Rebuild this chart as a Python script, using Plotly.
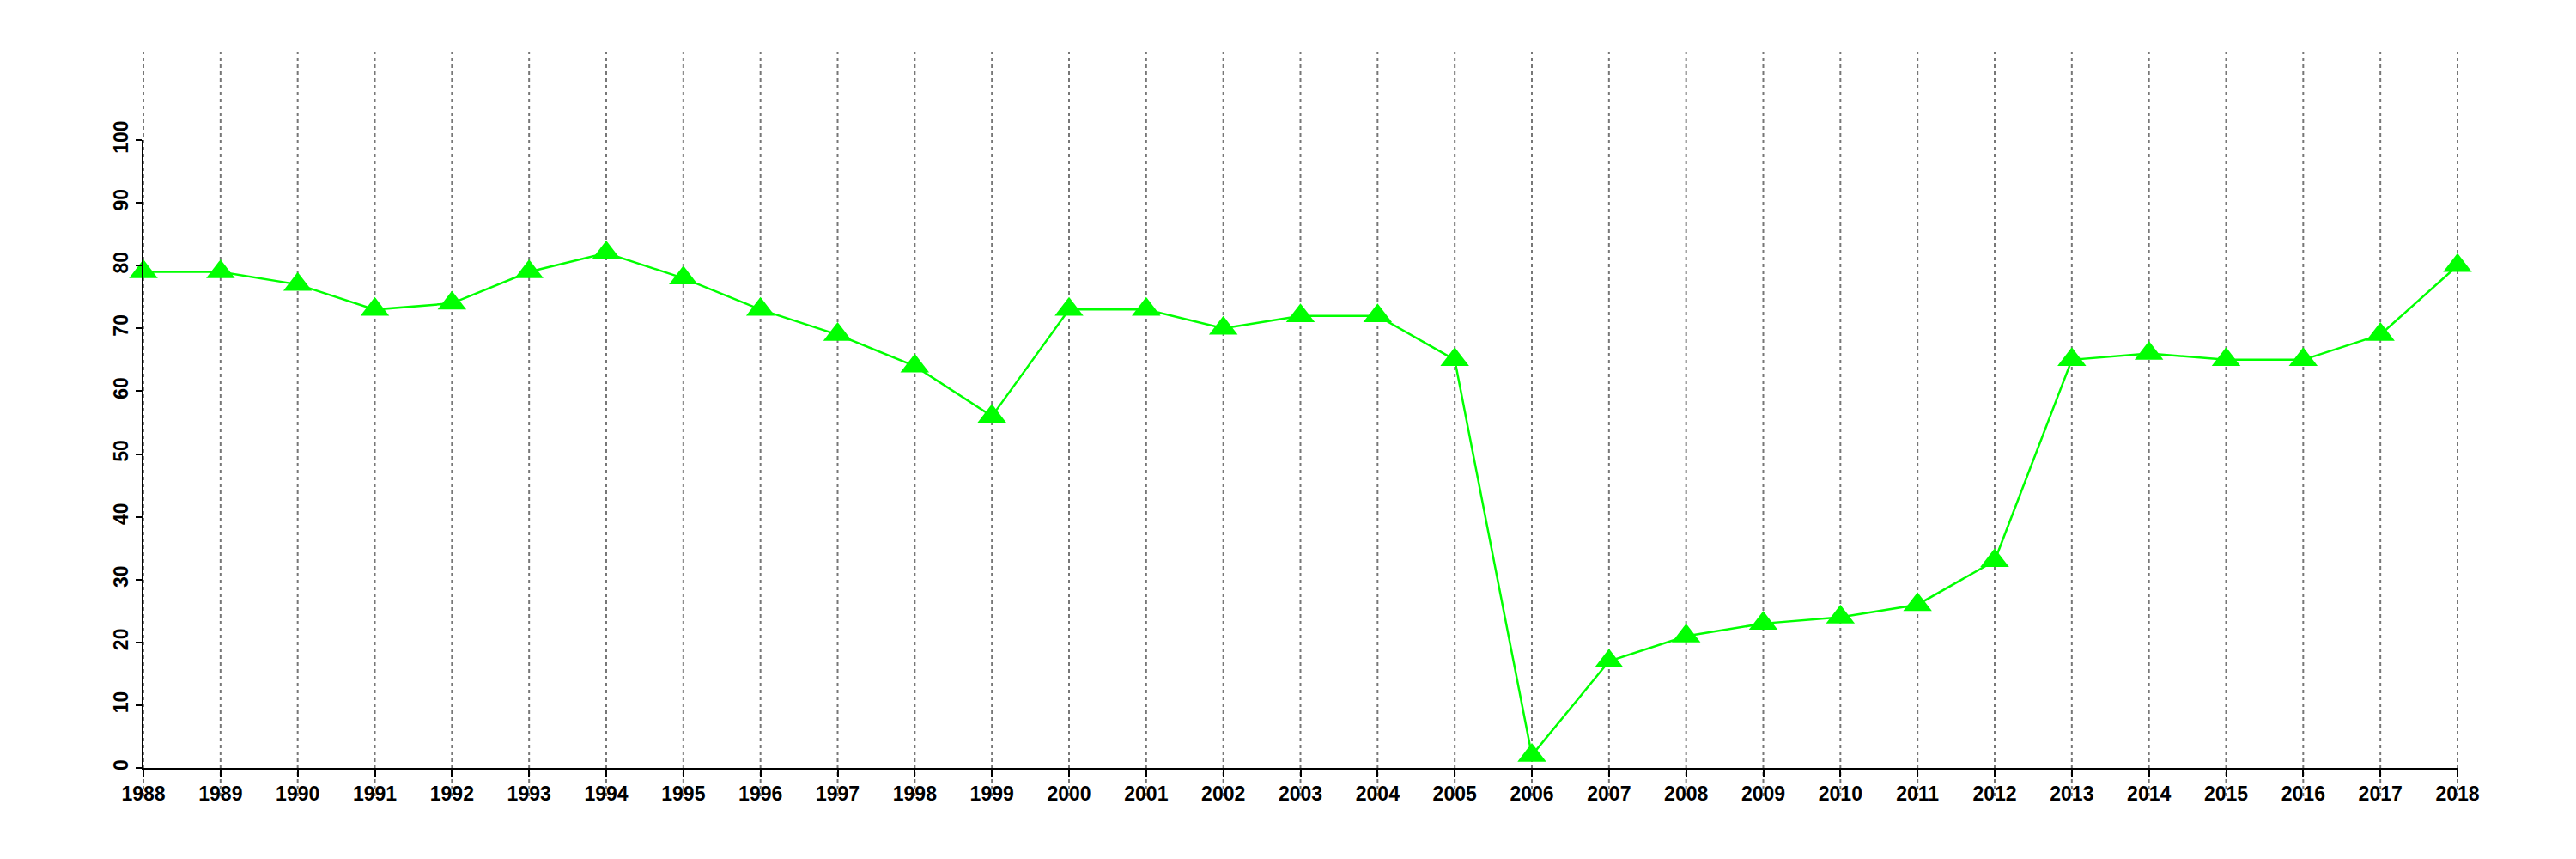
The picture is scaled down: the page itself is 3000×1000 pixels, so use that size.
import plotly.graph_objects as go

years = list(range(1988, 2019))
values = [79, 79, 77, 73, 74, 79, 82, 78, 73, 69, 64, 56, 73, 73, 70, 72, 72, 65,
          2, 17, 21, 23, 24, 26, 33, 65, 66, 65, 65, 69, 80]
y_ticks = [0, 10, 20, 30, 40, 50, 60, 70, 80, 90, 100]

# page body has an 8px default margin, so the figure is offset by 8px
W, H = 2992, 992
left, right, top, bottom = 159, 138, 155, 106
plot_h = H - top - bottom

fig = go.Figure()

# dotted vertical gridlines extending beyond plot area
grid_top = 1 + (top - 52) / plot_h
grid_bot = -(919 - (H - bottom)) / plot_h
for yr in years:
    fig.add_shape(type="line", xref="x", yref="paper", x0=yr, x1=yr,
                  y0=grid_bot, y1=grid_top,
                  line=dict(color="#777777", width=2, dash="4px,4px"), layer="below")

fig.add_trace(go.Scatter(
    x=years, y=values, mode="lines+markers",
    line=dict(color="#00FF00", width=2.5),
    marker=dict(symbol="triangle-up", size=29, color="#00FF00", line=dict(width=0)),
    cliponaxis=False, showlegend=False,
))

tf = dict(size=23, family="Liberation Sans, Arial, sans-serif", weight="bold", color="black")

fig.update_layout(
    template="none",
    width=W, height=H,
    margin=dict(l=left, r=right, t=top, b=bottom, pad=0),
    paper_bgcolor="white", plot_bgcolor="white",
    xaxis=dict(range=[1988, 2018], tickmode="array", tickvals=years,
               ticktext=[str(y) for y in years], automargin=False,
               showgrid=False, zeroline=False, showline=True, linecolor="black",
               linewidth=2, ticks="outside", ticklen=8, tickwidth=2,
               tickcolor="black", tickfont=tf),
    yaxis=dict(range=[0, 100], tickmode="array", tickvals=y_ticks,
               ticktext=[str(v) for v in y_ticks], tickangle=-90, automargin=False,
               showgrid=False, zeroline=False, showline=True, linecolor="black",
               linewidth=2, ticks="outside", ticklen=7, tickwidth=2,
               tickcolor="black", tickfont=tf),
)

fig.write_html("out.html")
